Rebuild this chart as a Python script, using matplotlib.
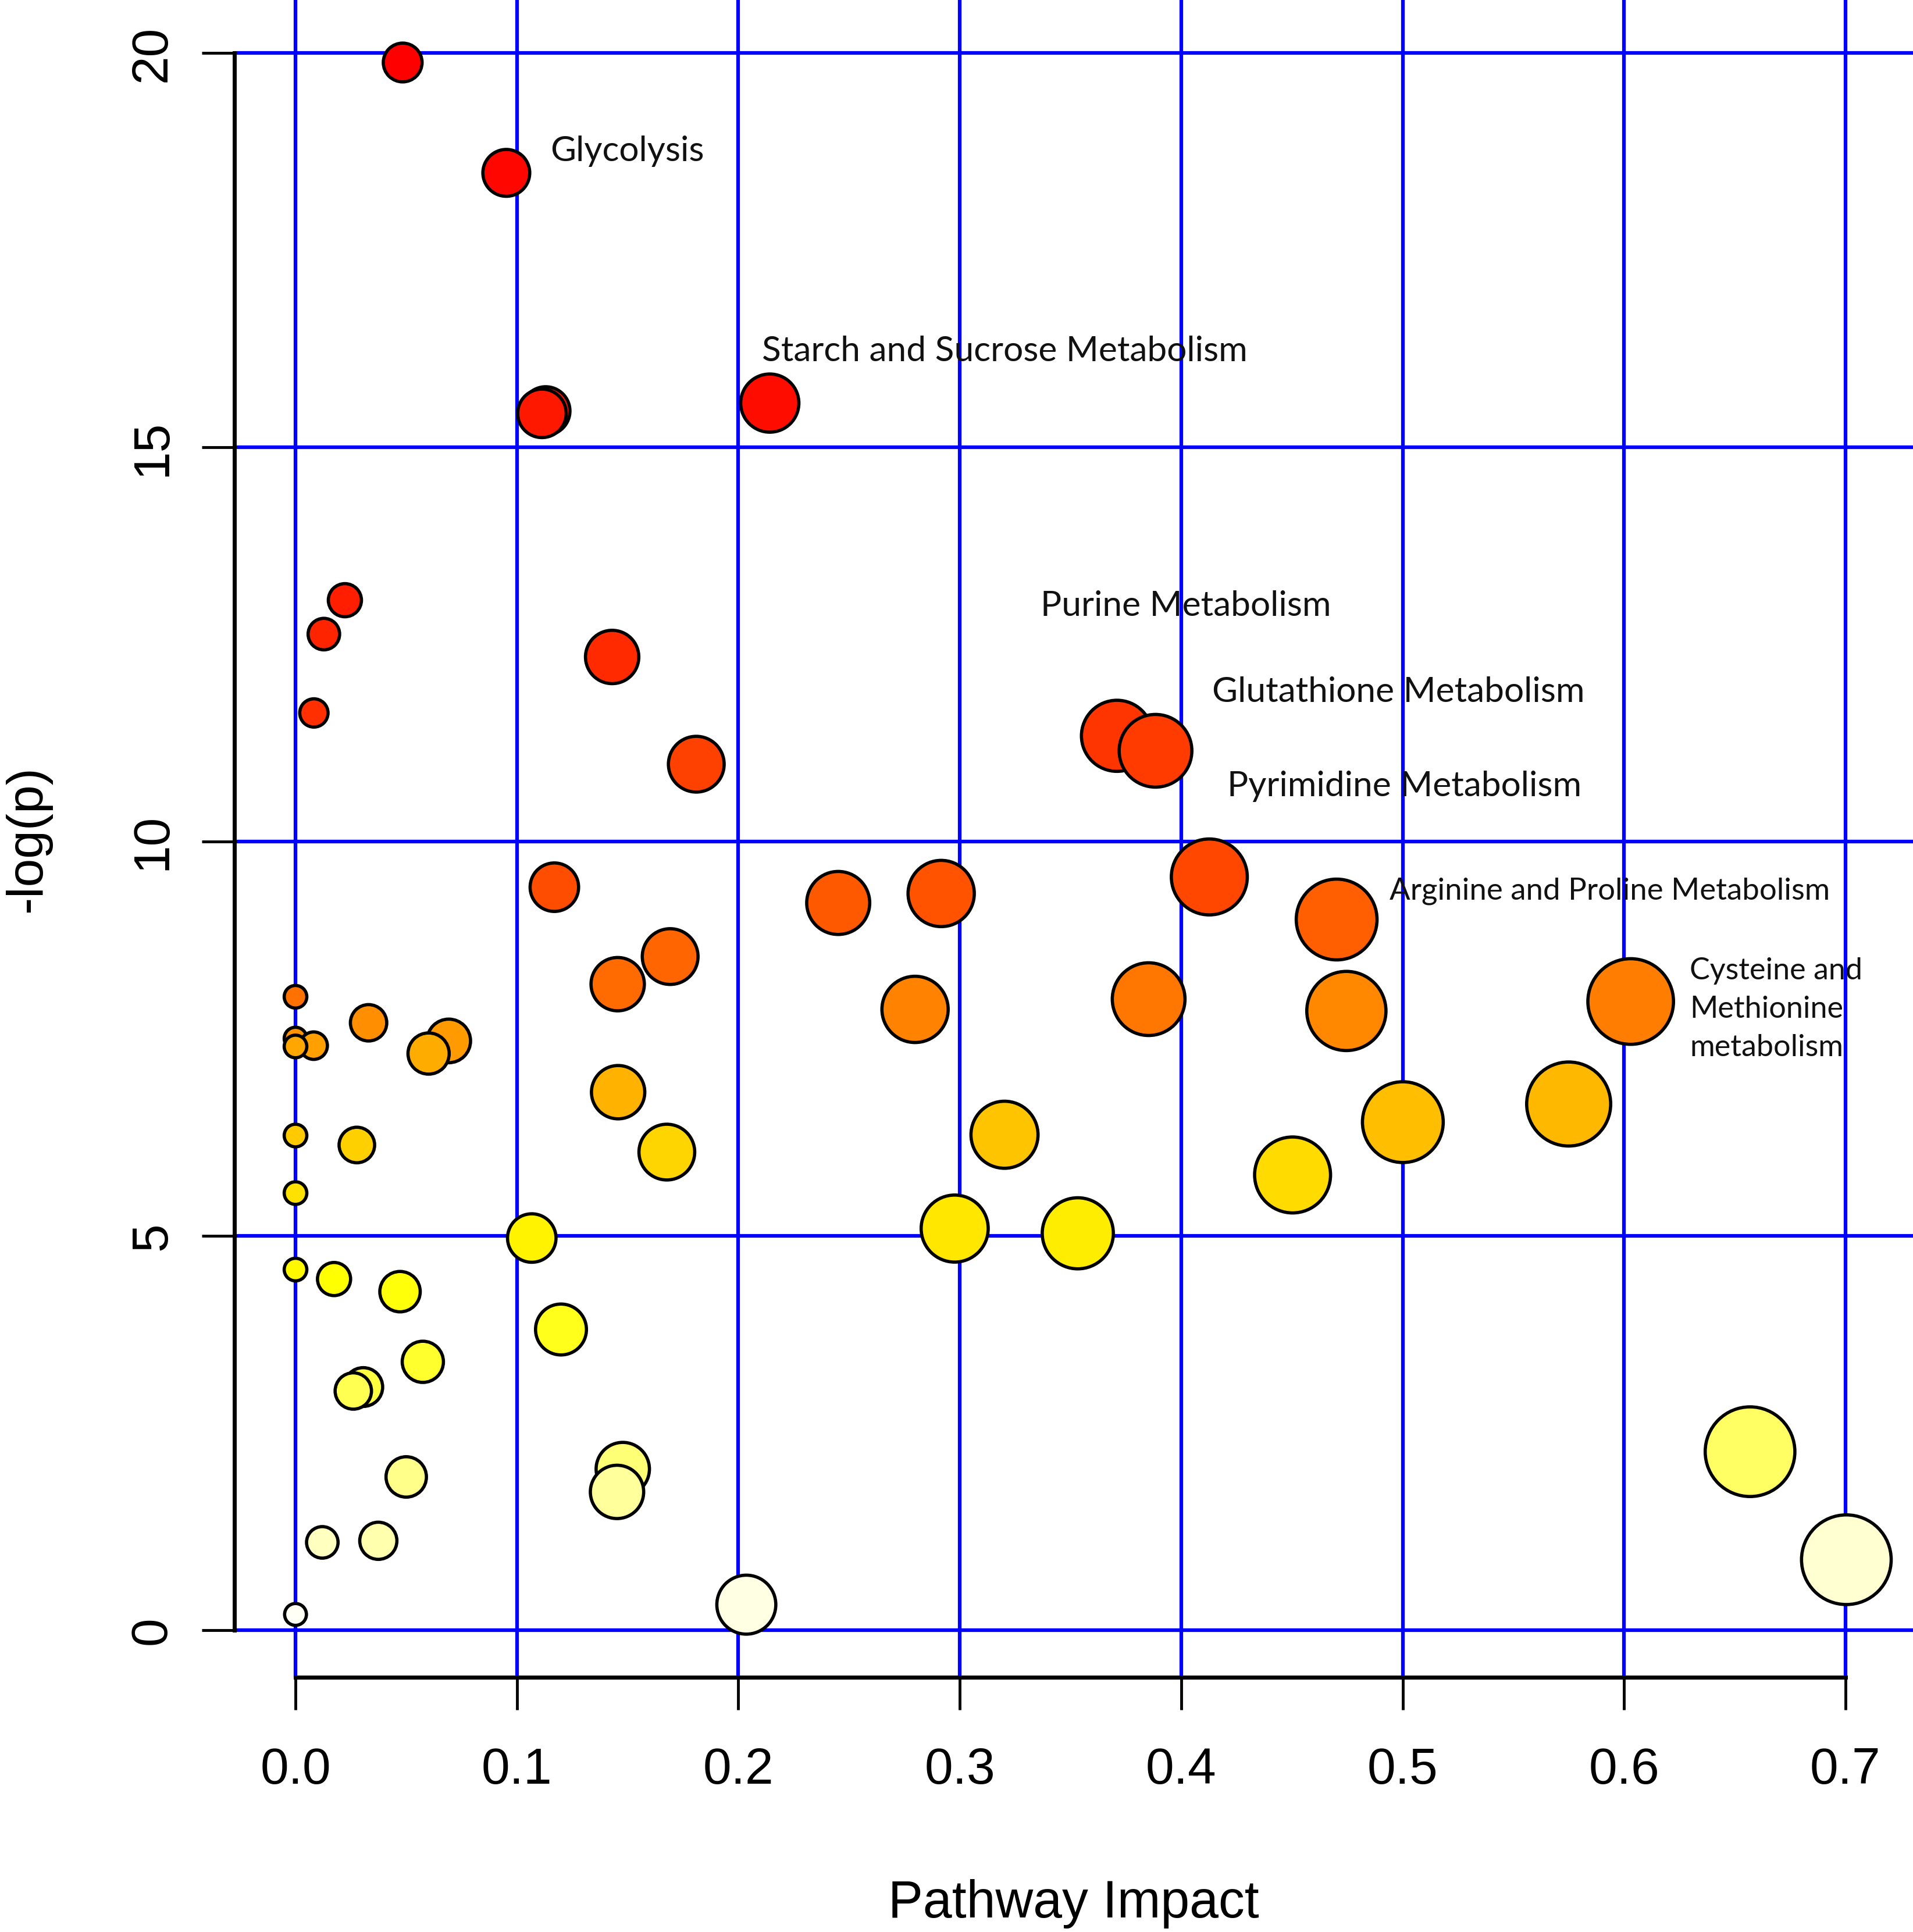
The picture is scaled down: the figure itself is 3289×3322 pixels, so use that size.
import colorsys
import numpy as np
import matplotlib
matplotlib.use("Agg")
import matplotlib.pyplot as plt

# pathway impact (x) and -log(p) (y)
impact = [0.0484, 0.0952, 0.2142, 0.1130, 0.1113, 0.0223, 0.0128, 0.1430, 0.0083, 0.3710,
          0.3884, 0.1810, 0.4127, 0.1169, 0.2916, 0.2451, 0.4702, 0.1692, 0.1455, 0.0,
          0.3853, 0.6030, 0.2798, 0.4746, 0.0330, 0.0, 0.0692, 0.0082, 0.0, 0.0601,
          0.1457, 0.5750, 0.5001, 0.3202, 0.0, 0.0277, 0.1677, 0.4503, 0.0, 0.2977,
          0.3533, 0.1067, 0.0, 0.0174, 0.0472, 0.1199, 0.0575, 0.0306, 0.0261, 0.6569,
          0.1478, 0.0500, 0.1452, 0.0374, 0.0121, 0.7004, 0.2036, 0.0]
neg_log_p = [19.88, 18.48, 15.56, 15.46, 15.43, 13.06, 12.63, 12.34, 11.63, 11.34,
             11.15, 10.98, 9.55, 9.42, 9.34, 9.22, 9.01, 8.54, 8.19, 8.03,
             8.00, 7.97, 7.87, 7.85, 7.70, 7.50, 7.47, 7.41, 7.40, 7.31,
             6.82, 6.67, 6.44, 6.28, 6.27, 6.15, 6.06, 5.77, 5.54, 5.09,
             5.03, 4.97, 4.57, 4.45, 4.29, 3.81, 3.40, 3.08, 3.03, 2.26,
             2.04, 1.94, 1.75, 1.13, 1.11, 0.89, 0.32, 0.196]
# node radius (points) as drawn in the reference
node_radius = [26, 31, 38, 32, 32, 22.5, 21.5, 35, 19.5, 46,
               47, 36.5, 49, 32, 43, 41, 52, 36.5, 35, 16,
               47, 55, 43, 51, 24.5, 16, 29, 19, 16, 27.5,
               35, 54, 52, 43.5, 16, 24, 36.5, 49, 16, 43.5,
               46, 32, 16, 22.5, 27, 33.5, 27.5, 26, 24.5, 57.5,
               35, 27, 35, 25, 21.5, 57.5, 38.5, 15.5]

x_ticks = [0.0, 0.1, 0.2, 0.3, 0.4, 0.5, 0.6, 0.7]
y_ticks = [0, 5, 10, 15, 20]

# labelled pathways: text, x, y (baseline), font size
labels = [
    ("Glycolysis", 0.1152, 18.64, 43.5),
    ("Starch and Sucrose Metabolism", 0.2106, 16.10, 43.5),
    ("Purine Metabolism", 0.3364, 12.865, 43.5),
    ("Glutathione Metabolism", 0.4139, 11.78, 43.5),
    ("Pyrimidine Metabolism", 0.4208, 10.58, 43.5),
    ("Arginine and Proline Metabolism", 0.4942, 9.273, 38),
]
cys_label = "Cysteine and\nMethionine\nmetabolism"


def heat_colors(n):
    # same ramp as R's heat.colors()
    j = n // 4
    i = n - j
    cols = [colorsys.hsv_to_rgb(k / (i - 1) / 6.0, 1, 1) for k in range(i)]
    if j > 0:
        for s in np.linspace(1 - 1 / (2 * j), 1 / (2 * j), j):
            cols.append(colorsys.hsv_to_rgb(1 / 6.0, s, 1))
    return cols


plt.rcParams['font.family'] = ['Liberation Sans', 'DejaVu Sans']

x = np.array(impact)
y = np.array(neg_log_p)
r = np.array(node_radius)
order = np.argsort(-y, kind="stable")
x, y, r = x[order], y[order], r[order]
colors = heat_colors(len(y))

W, H = 3289, 3323
fig = plt.figure(figsize=(W / 100, H / 100), dpi=100)
ax = fig.add_axes([403 / W, (H - 2885) / H, 1 - 403 / W, 2885 / H])

ax.set_xlim(-0.0276, 0.7305)
ax.set_ylim(-0.601, 20.68)

ax.grid(True, color='blue', linewidth=4.5)
ax.set_axisbelow(True)

edge_lw = 4
ax.scatter(x, y, s=(2 * (r - edge_lw / 2)) ** 2, c=colors,
           edgecolors='black', linewidths=edge_lw, zorder=3, clip_on=False)

for text, tx, ty, fs in labels:
    ax.text(tx, ty, text, fontsize=fs, family='Lato', va='baseline', ha='left',
            color='#111111', zorder=4)
ax.text(0.6296, 7.88, cys_label, fontsize=37.5, family='Lato', va='center',
        ha='left', linespacing=1.5, color='#111111', zorder=4)

ax.set_xticks(x_ticks)
ax.set_xticklabels([f"{v:.1f}" for v in x_ticks])
ax.set_yticks(y_ticks)
ax.set_yticklabels([str(v) for v in y_ticks])
for lab in ax.get_yticklabels():
    lab.set_rotation(90)
    lab.set_va('center')
    lab.set_ha('right')

ax.tick_params(axis='both', direction='out', length=40, width=3.5,
               labelsize=63, colors='black')
ax.tick_params(axis='x', pad=46)
ax.tick_params(axis='y', pad=32)

for side in ['top', 'right']:
    ax.spines[side].set_visible(False)
ax.spines['left'].set_bounds(0, 20)
ax.spines['bottom'].set_bounds(0, 0.7)
for side in ['left', 'bottom']:
    ax.spines[side].set_linewidth(5)
    ax.spines[side].set_color('black')

ax.set_xlabel("Pathway Impact", fontsize=64.5, va='center')
ax.xaxis.set_label_coords(0.5, -0.1348)
ax.set_ylabel("-log(p)", fontsize=63, va='center')
ax.yaxis.set_label_coords(-0.123, 0.5)

fig.savefig("out.png", dpi=100)
